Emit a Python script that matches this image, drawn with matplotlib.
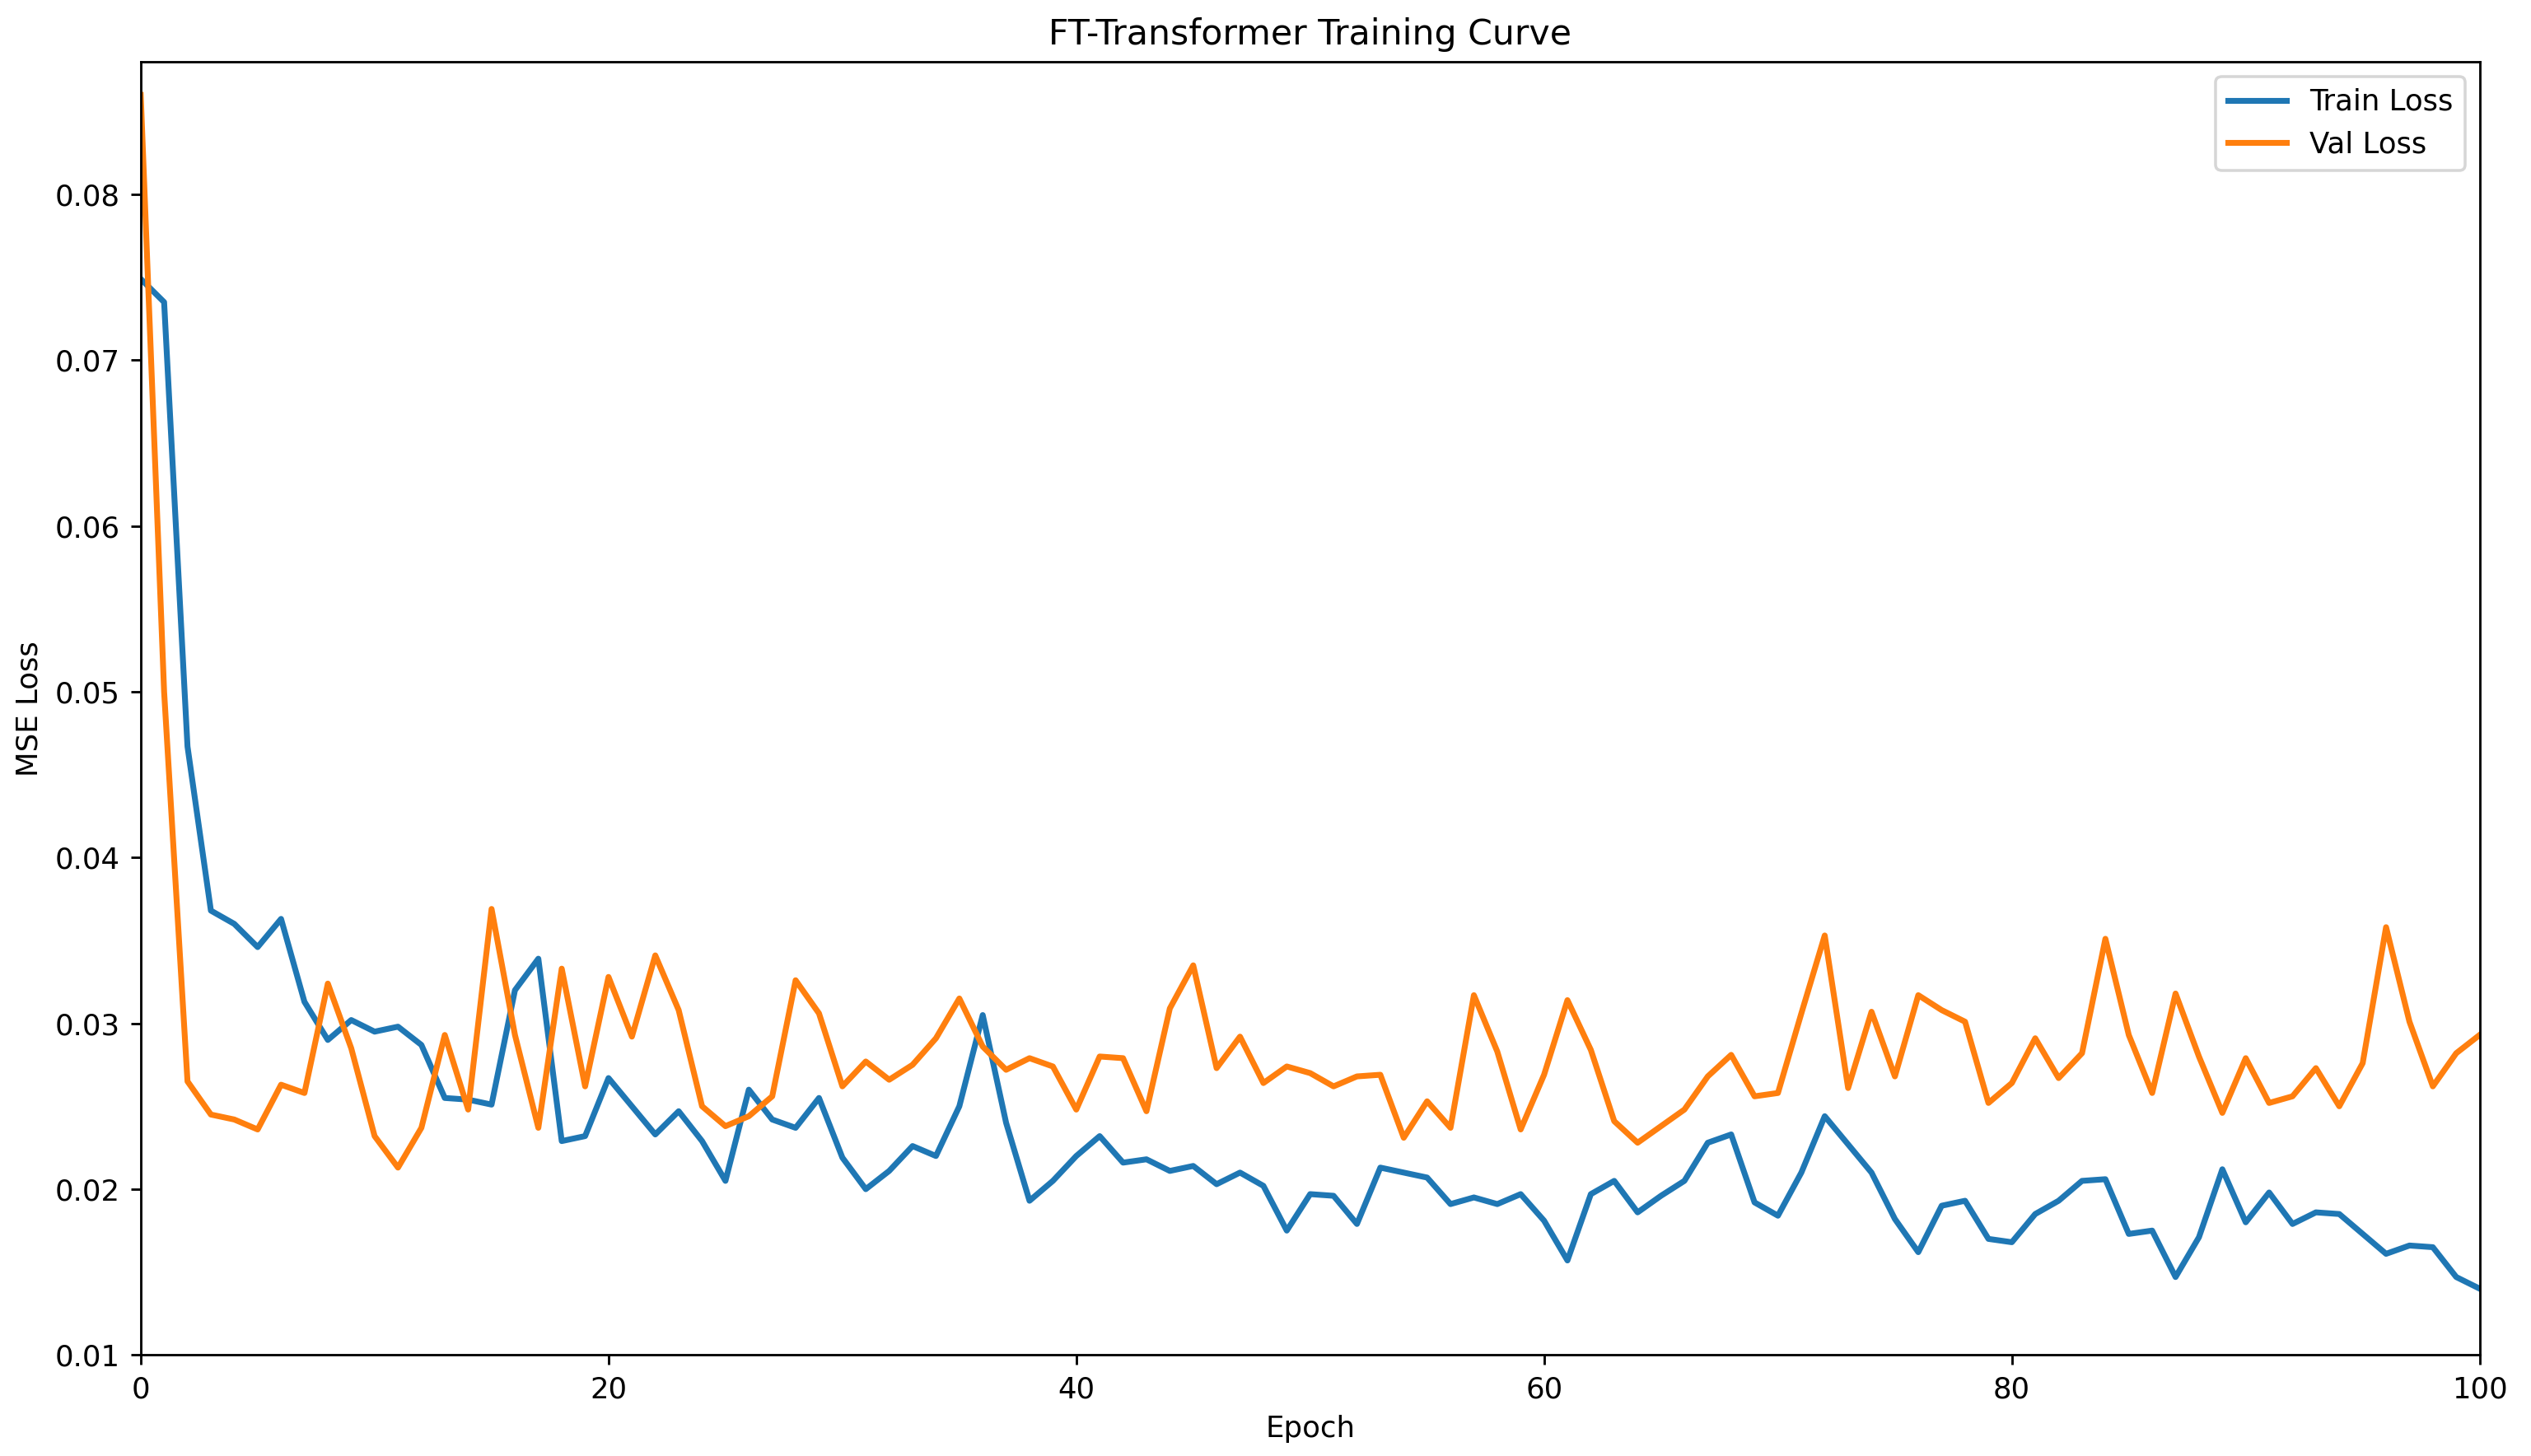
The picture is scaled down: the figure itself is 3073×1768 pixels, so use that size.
import numpy as np
from matplotlib import pyplot as plt

# values, one per epoch (0..100)
train_loss = [
    0.0749, 0.0735, 0.0467, 0.0368, 0.0360, 0.0346, 0.0363, 0.0313, 0.0290, 0.0302,
    0.0295, 0.0298, 0.0287, 0.0255, 0.0254, 0.0251, 0.0320, 0.0339, 0.0229, 0.0232,
    0.0267, 0.0250, 0.0233, 0.0247, 0.0229, 0.0205, 0.0260, 0.0242, 0.0237, 0.0255,
    0.0219, 0.0200, 0.0211, 0.0226, 0.0220, 0.0250, 0.0305, 0.0240, 0.0193, 0.0205,
    0.0220, 0.0232, 0.0216, 0.0218, 0.0211, 0.0214, 0.0203, 0.0210, 0.0202, 0.0175,
    0.0197, 0.0196, 0.0179, 0.0213, 0.0210, 0.0207, 0.0191, 0.0195, 0.0191, 0.0197,
    0.0181, 0.0157, 0.0197, 0.0205, 0.0186, 0.0196, 0.0205, 0.0228, 0.0233, 0.0192,
    0.0184, 0.0210, 0.0244, 0.0227, 0.0210, 0.0182, 0.0162, 0.0190, 0.0193, 0.0170,
    0.0168, 0.0185, 0.0193, 0.0205, 0.0206, 0.0173, 0.0175, 0.0147, 0.0171, 0.0212,
    0.0180, 0.0198, 0.0179, 0.0186, 0.0185, 0.0173, 0.0161, 0.0166, 0.0165, 0.0147,
    0.0140,
]
val_loss = [
    0.0860, 0.0500, 0.0265, 0.0245, 0.0242, 0.0236, 0.0263, 0.0258, 0.0324, 0.0285,
    0.0232, 0.0213, 0.0237, 0.0293, 0.0248, 0.0369, 0.0293, 0.0237, 0.0333, 0.0262,
    0.0328, 0.0292, 0.0341, 0.0308, 0.0250, 0.0238, 0.0244, 0.0256, 0.0326, 0.0306,
    0.0262, 0.0277, 0.0266, 0.0275, 0.0291, 0.0315, 0.0286, 0.0272, 0.0279, 0.0274,
    0.0248, 0.0280, 0.0279, 0.0247, 0.0309, 0.0335, 0.0273, 0.0292, 0.0264, 0.0274,
    0.0270, 0.0262, 0.0268, 0.0269, 0.0231, 0.0253, 0.0237, 0.0317, 0.0283, 0.0236,
    0.0269, 0.0314, 0.0284, 0.0241, 0.0228, 0.0238, 0.0248, 0.0268, 0.0281, 0.0256,
    0.0258, 0.0306, 0.0353, 0.0261, 0.0307, 0.0268, 0.0317, 0.0308, 0.0301, 0.0252,
    0.0264, 0.0291, 0.0267, 0.0282, 0.0351, 0.0293, 0.0258, 0.0318, 0.0280, 0.0246,
    0.0279, 0.0252, 0.0256, 0.0273, 0.0250, 0.0276, 0.0358, 0.0301, 0.0262, 0.0282,
    0.0293,
]
epochs = np.arange(len(train_loss))

fig, ax = plt.subplots(figsize=(3073 / 256, 1768 / 256), dpi=256)
fig.subplots_adjust(left=0.0556, right=0.9797, bottom=0.0694, top=0.9576)

ax.plot(epochs, train_loss, label='Train Loss', linewidth=2)
ax.plot(epochs, val_loss, label='Val Loss', linewidth=2)
ax.set_xlim(0, 100)
ax.set_ylim(0.01, 0.088)
ax.set_xlabel('Epoch')
ax.set_ylabel('MSE Loss')
ax.set_title('FT-Transformer Training Curve')
ax.legend(loc='upper right')

fig.savefig('out.png', dpi=256)
